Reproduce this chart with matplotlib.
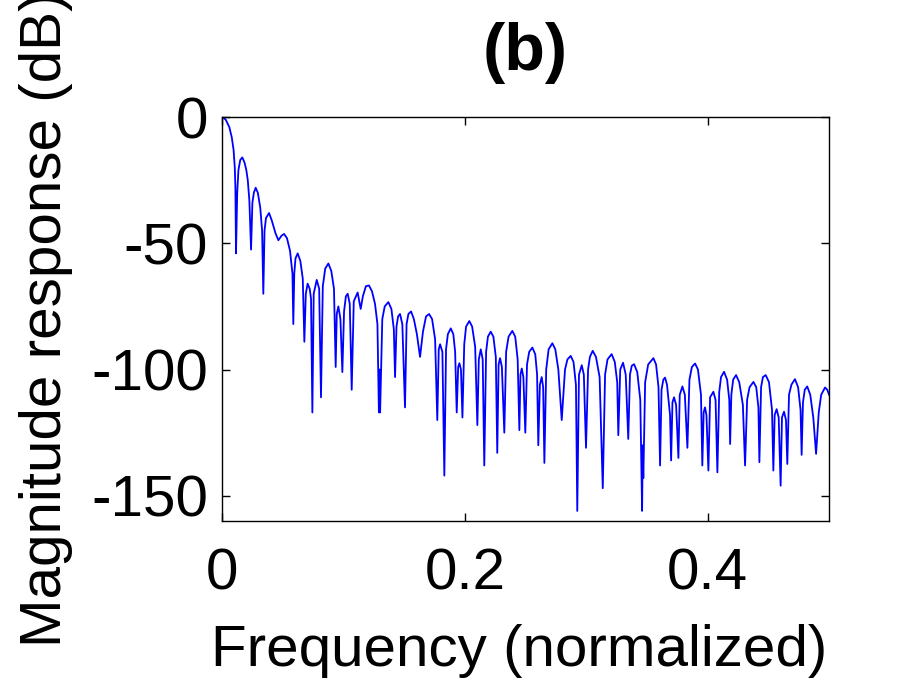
import matplotlib
matplotlib.use('Agg')
import matplotlib.pyplot as plt

# magnitude response: (normalized frequency, dB)
freq = [
    0.0000, 0.0030, 0.0060, 0.0080, 0.0095, 0.0105, 0.0110, 0.0115,
    0.0125, 0.0135, 0.0150, 0.0167, 0.0185, 0.0200, 0.0212, 0.0225, 0.0239,
    0.0250, 0.0262, 0.0277, 0.0295, 0.0315, 0.0330, 0.0340,
    0.0350, 0.0362, 0.0387, 0.0410, 0.0440, 0.0464, 0.0490, 0.0511, 0.0535, 0.0560, 0.0580, 0.0587,
    0.0595, 0.0605, 0.0623, 0.0645, 0.0665, 0.0678,
    0.0690, 0.0705, 0.0722, 0.0733, 0.0744,
    0.0755, 0.0780, 0.0800, 0.0815,
    0.0830, 0.0850, 0.0876, 0.0900, 0.0922, 0.0936,
    0.0945, 0.0958, 0.0975, 0.0991,
    0.1005, 0.1020, 0.1035, 0.1052, 0.1068,
    0.1085, 0.1117, 0.1142, 0.1160, 0.1185, 0.1210, 0.1235, 0.1260, 0.1280, 0.1292, 0.1297, 0.1302,
    0.1320, 0.1340, 0.1370, 0.1395, 0.1415, 0.1425,
    0.1437, 0.1450, 0.1466, 0.1485, 0.1507,
    0.1520, 0.1535, 0.1557, 0.1580, 0.1605, 0.1631, 0.1655, 0.1680, 0.1705, 0.1730, 0.1755, 0.1773,
    0.1785, 0.1796, 0.1815, 0.1831,
    0.1845, 0.1860, 0.1884, 0.1905, 0.1920, 0.1933,
    0.1945, 0.1955, 0.1968, 0.1980,
    0.1995, 0.2010, 0.2037, 0.2060, 0.2085, 0.2103,
    0.2115, 0.2131, 0.2147, 0.2160,
    0.2175, 0.2190, 0.2213, 0.2235, 0.2255, 0.2267,
    0.2278, 0.2290, 0.2305, 0.2325,
    0.2340, 0.2360, 0.2391, 0.2415, 0.2435, 0.2449,
    0.2458, 0.2469, 0.2482, 0.2498,
    0.2512, 0.2530, 0.2556, 0.2580, 0.2595, 0.2605,
    0.2618, 0.2633, 0.2645, 0.2655,
    0.2670, 0.2690, 0.2721, 0.2745, 0.2770, 0.2798,
    0.2825, 0.2845, 0.2872, 0.2895, 0.2915, 0.2926,
    0.2940, 0.2963, 0.2980, 0.2998,
    0.3015, 0.3030, 0.3053, 0.3080, 0.3110, 0.3136,
    0.3155, 0.3175, 0.3209, 0.3235, 0.3255, 0.3264,
    0.3280, 0.3303, 0.3325, 0.3346,
    0.3360, 0.3375, 0.3394, 0.3420, 0.3445, 0.3460, 0.3465, 0.3470,
    0.3485, 0.3510, 0.3553, 0.3575, 0.3595, 0.3608,
    0.3620, 0.3635, 0.3649, 0.3665, 0.3690, 0.3699,
    0.3710, 0.3723, 0.3740, 0.3759,
    0.3770, 0.3792, 0.3812, 0.3833,
    0.3850, 0.3870, 0.3896, 0.3920, 0.3945, 0.3956,
    0.3967, 0.3978, 0.3990, 0.4006,
    0.4020, 0.4047, 0.4065, 0.4080,
    0.4095, 0.4110, 0.4135, 0.4160, 0.4178, 0.4185,
    0.4195, 0.4210, 0.4234, 0.4260, 0.4290, 0.4308,
    0.4325, 0.4345, 0.4377, 0.4400, 0.4418, 0.4426,
    0.4440, 0.4455, 0.4478, 0.4505, 0.4530, 0.4541,
    0.4552, 0.4568, 0.4585, 0.4601,
    0.4612, 0.4629, 0.4645, 0.4656,
    0.4670, 0.4690, 0.4719, 0.4745, 0.4765, 0.4774,
    0.4785, 0.4800, 0.4820, 0.4845, 0.4870, 0.4893,
    0.4915, 0.4935, 0.4967, 0.4985, 0.5000,
]
mag_db = [
    0, -1, -4, -8, -13, -20, -28, -54,
    -30, -21, -17, -16, -18, -21, -25, -33, -52.5,
    -34, -30, -28, -30, -36, -45, -70,
    -45, -40, -38, -41, -46, -48.8, -47, -46.3, -48, -53, -62, -82,
    -62, -56, -54, -57, -64, -89,
    -70, -66, -68, -72, -117,
    -70, -64.5, -68, -111,
    -67, -60, -58, -61, -68, -99,
    -78, -75, -80, -101,
    -77, -71, -70, -74, -108,
    -73, -69.5, -76, -71, -67, -66.7, -69, -74, -82, -117, -100, -117,
    -80, -75, -73.3, -76, -84, -103,
    -83, -79, -78, -82, -115,
    -82, -78, -77, -80, -86, -95, -85, -79, -78, -80, -88, -120,
    -92, -90, -93, -142,
    -92, -86, -83.7, -86, -93, -117,
    -99, -97.5, -100, -119,
    -90, -83, -80.8, -83, -91, -122,
    -96, -92, -96, -138,
    -93, -87, -85, -87, -95, -133,
    -98, -95.5, -99, -125,
    -93, -87, -84.7, -87, -96, -124,
    -102, -99.6, -103, -125,
    -98, -93, -91.3, -94, -102, -130,
    -106, -103, -107, -137,
    -100, -92, -89.6, -92, -100, -120,
    -100, -96, -94.6, -97, -106, -156,
    -102, -98.3, -102, -131,
    -100, -95, -92.6, -95, -103, -147,
    -102, -96, -93.9, -97, -105, -126,
    -100, -97.3, -102, -127.5,
    -102, -98.5, -97.9, -101, -112, -156, -130, -143,
    -105, -98, -95.5, -98, -107, -138,
    -108, -104, -103.2, -106, -118, -136,
    -113, -111, -114, -135,
    -110, -106.7, -110, -131,
    -104, -99, -97.6, -100, -110, -138,
    -117, -115, -118, -140,
    -111, -108.8, -112, -140.7,
    -109, -103, -100.9, -104, -112, -129.5,
    -110, -104, -102.2, -105, -114, -138,
    -112, -107, -104.9, -107, -115, -136.7,
    -107, -103, -102.2, -105, -116, -140,
    -118, -115.7, -119, -146,
    -119, -116.7, -120, -137.4,
    -110, -106, -103.8, -107, -116, -133.8,
    -113, -108, -106.7, -110, -119, -133.4,
    -117, -110, -107.1, -108, -110,
]

x_ticks = [0, 0.2, 0.4]
x_tick_labels = ['0', '0.2', '0.4']
y_ticks = [0, -50, -100, -150]
y_tick_labels = ['0', '-50', '-100', '-150']

plt.rcParams['font.family'] = ['Liberation Sans', 'DejaVu Sans']
plt.rcParams['axes.unicode_minus'] = False

fig = plt.figure(figsize=(9.16, 6.86), dpi=100)
ax = fig.add_axes([0.2424, 0.2405, 0.6627, 0.5889])

ax.plot(freq, mag_db, color=(0, 0, 1), lw=1.3)

ax.set_xlim(0, 0.5)
ax.set_ylim(-160, 0)
ax.set_xticks(x_ticks)
ax.set_xticklabels(x_tick_labels)
ax.set_yticks(y_ticks)
ax.set_yticklabels(y_tick_labels)

ax.tick_params(direction='in', length=6, width=1.0, top=True, right=True,
               labelsize=42)
ax.tick_params(axis='x', pad=19)
ax.tick_params(axis='y', pad=10)
for s in ax.spines.values():
    s.set_linewidth(1.0)

ax.set_xlabel('Frequency (normalized)', fontsize=42)
ax.xaxis.set_label_coords(0.49, -0.255)
ax.set_ylabel('Magnitude response (dB)', fontsize=42)
ax.yaxis.set_label_coords(-0.245, 0.5)
ax.set_title('(b)', fontsize=48, fontweight='bold', pad=34)

fig.savefig('out.png', dpi=100)
